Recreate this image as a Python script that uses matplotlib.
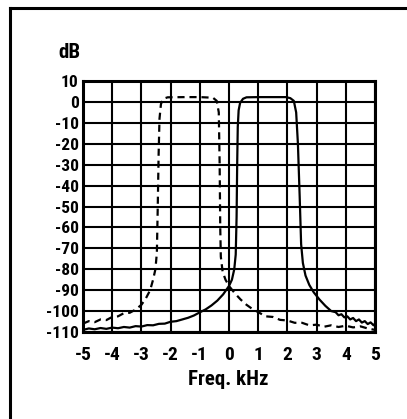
import matplotlib
matplotlib.use("Agg")
import matplotlib.pyplot as plt
from matplotlib.lines import Line2D
from matplotlib import font_manager

# ---- data ----
x_ticks = [-5, -4, -3, -2, -1, 0, 1, 2, 3, 4, 5]
y_ticks = [10, 0, -10, -20, -30, -40, -50, -60, -70, -80, -90, -100, -110]

solid_freq = [-5.0, -4.8, -4.6, -4.4, -4.2, -4.0, -3.8, -3.6, -3.4, -3.2, -3.0,
              -2.8, -2.6, -2.4, -2.2, -2.0, -1.8, -1.6, -1.4, -1.2, -1.0,
              -0.8, -0.6, -0.4, -0.2, 0.0, 0.1, 0.18, 0.23, 0.26, 0.28, 0.30,
              0.33, 0.38, 0.48, 0.6, 1.0, 1.5, 1.95, 2.1, 2.22, 2.3, 2.36,
              2.42, 2.47, 2.53, 2.62, 2.75, 2.9, 3.1, 3.3, 3.5, 3.65, 3.75,
              3.85, 3.95, 4.05, 4.15, 4.25, 4.35, 4.45, 4.55, 4.65, 4.75,
              4.85, 4.95, 5.0]
solid_db = [-109.0, -108.3, -108.7, -108.1, -108.5, -107.9, -108.2, -107.6,
            -107.9, -107.2, -107.4, -106.7, -106.8, -106.1, -106.0, -105.1,
            -104.8, -104.0, -103.2, -102.1, -100.6, -99.2, -97.3, -95.0,
            -92.0, -88.0, -85.0, -80.0, -73.0, -55.0, -30.0, -12.0,
            -4.0, -0.5, 1.5, 2.2, 2.3, 2.3, 2.3, 1.8, 0.5, -5.0, -20.0,
            -45.0, -68.0, -77.0, -83.0, -87.5, -91.0, -94.5, -97.5, -100.0,
            -100.5, -102.0, -101.5, -103.0, -102.5, -104.0, -103.3, -104.8,
            -104.0, -105.5, -104.8, -106.2, -105.4, -106.8, -106.0]

dash_freq = [-5.0, -4.8, -4.6, -4.4, -4.2, -4.0, -3.8, -3.6, -3.4, -3.2, -3.0,
             -2.85, -2.7, -2.6, -2.52, -2.47, -2.44, -2.41, -2.38, -2.33,
             -2.25, -2.1, -1.5, -1.0, -0.55, -0.42, -0.35, -0.32, -0.30,
             -0.28, -0.22, -0.12, 0.0, 0.2, 0.4, 0.6, 0.8, 1.0, 1.25, 1.5,
             1.75, 2.0, 2.25, 2.5, 2.75, 3.0, 3.25, 3.5, 3.75, 4.0, 4.25,
             4.5, 4.75, 5.0]
dash_db = [-106.0, -104.8, -105.3, -104.0, -104.3, -102.8, -102.5, -101.0,
           -100.8, -99.3, -97.0, -94.0, -90.0, -85.0, -80.0, -72.0, -50.0,
           -25.0, -8.0, -1.0, 1.5, 2.2, 2.3, 2.3, 2.0, 0.5, -5.0, -30.0,
           -60.0, -74.0, -81.0, -85.0, -88.0, -91.5, -94.5, -97.0, -99.0,
           -100.5, -102.5, -102.8, -104.2, -104.5, -105.6, -105.6, -106.8,
           -106.5, -107.5, -106.8, -107.6, -107.0, -107.8, -107.3, -108.3,
           -109.0]

# ---- fonts ----
avail = {f.name for f in font_manager.fontManager.ttflist}
fam = [f for f in ["Liberation Sans Narrow", "Roboto Condensed", "Liberation Sans", "DejaVu Sans"] if f in avail]
plt.rcParams['font.family'] = fam

W, H = 407, 419
fig = plt.figure(figsize=(W / 100, H / 100), dpi=100)
fig.patch.set_facecolor('white')

L, R, T, B = 83, 375, 81, 332
ax = fig.add_axes([L / W, 1 - B / H, (R - L) / W, (B - T) / H])
ax.set_xlim(-5, 5)
ax.set_ylim(-110, 10)
ax.set_xticks(x_ticks)
ax.set_yticks(y_ticks)
ax.set_xticklabels([str(v) for v in x_ticks])
ax.set_yticklabels([str(v) for v in y_ticks])
ax.grid(True, color='black', linewidth=1.5)
ax.set_axisbelow(True)
for s in ax.spines.values():
    s.set_linewidth(2.2)
    s.set_color('black')
ax.tick_params(length=0)
ax.tick_params(axis='y', pad=3, labelsize=12.5)
ax.tick_params(axis='x', pad=10, labelsize=14)
for lab in ax.get_xticklabels() + ax.get_yticklabels():
    lab.set_fontweight('bold')

ax.plot(solid_freq, solid_db, color='black', linewidth=1.6, solid_joinstyle='round')
ax.plot(dash_freq, dash_db, color='black', linewidth=1.6, linestyle=(0, (3.2, 2.2)))

fig.text(69 / W, 1 - 52 / H, 'dB', ha='center', va='center', fontsize=15, fontweight='bold')
fig.text(228 / W, 1 - 379 / H, 'Freq. kHz', ha='center', va='center', fontsize=15, fontweight='bold')

# outer frame: top and left lines
fig.add_artist(Line2D([10 / W, 1.0], [1 - 8.5 / H, 1 - 8.5 / H], transform=fig.transFigure,
                      color='black', linewidth=2.2))
fig.add_artist(Line2D([10 / W, 10 / W], [0, 1 - 8.5 / H], transform=fig.transFigure,
                      color='black', linewidth=2.2, solid_capstyle='projecting'))

fig.savefig('out.png', dpi=100, facecolor='white')
